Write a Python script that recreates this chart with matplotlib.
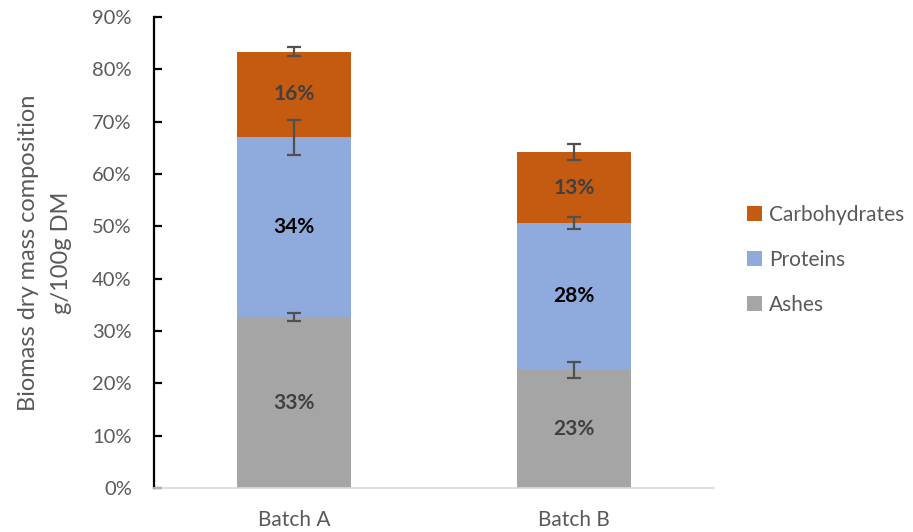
import matplotlib
matplotlib.use("Agg")
import matplotlib.pyplot as plt
from matplotlib.ticker import PercentFormatter
from matplotlib.patches import Patch
import numpy as np

plt.rcParams['font.family'] = ['Lato', 'DejaVu Sans']

categories = ["Batch A", "Batch B"]
series_names = ["Ashes", "Proteins", "Carbohydrates"]
ashes = [32.6, 22.6]
proteins = [34.4, 28.0]
carbohydrates = [16.4, 13.6]
ashes_err = [0.75, 1.5]
proteins_err = [3.4, 1.2]
carbohydrates_err = [0.9, 1.6]
ashes_lbl = ["33%", "23%"]
proteins_lbl = ["34%", "28%"]
carbohydrates_lbl = ["16%", "13%"]

colors = {"Ashes": "#A5A5A5", "Proteins": "#8FAADC", "Carbohydrates": "#C55A11"}
label_colors = {"Ashes": "#404040", "Proteins": "#000000", "Carbohydrates": "#404040"}

fig = plt.figure(figsize=(9.13, 5.32), dpi=100)
ax = fig.add_axes([154/913, 1-488/532, (714-154)/913, (488-17)/532])

x = np.arange(len(categories))
values = [ashes, proteins, carbohydrates]
errs = [ashes_err, proteins_err, carbohydrates_err]
lbls = [ashes_lbl, proteins_lbl, carbohydrates_lbl]
bottom = np.zeros(len(categories))
for name, v, e, lb in zip(series_names, values, errs, lbls):
    v = np.array(v)
    ax.bar(x, v, width=0.41, bottom=bottom, color=colors[name], zorder=2)
    tops = bottom + v
    ax.errorbar(x, tops, yerr=e, fmt='none', ecolor='#505050', elinewidth=1.6,
                capsize=5, capthick=1.6, zorder=4)
    for xi, b, vi, t in zip(x, bottom, v, lb):
        ax.text(xi, b + vi/2, t, ha='center', va='center', fontsize=15,
                fontweight='bold', color=label_colors[name], zorder=5)
    bottom = tops

ax.set_xlim(-0.5, 1.5)
ax.set_ylim(0, 90)
ax.set_yticks(np.arange(0, 91, 10))
ax.yaxis.set_major_formatter(PercentFormatter(decimals=0))
ax.set_xticks(x)
ax.set_xticklabels(categories)

for s in ['top', 'right']:
    ax.spines[s].set_visible(False)
ax.spines['left'].set_color('black')
ax.spines['left'].set_linewidth(1.6)
ax.spines['bottom'].set_color('#D9D9D9')
ax.spines['bottom'].set_linewidth(1.2)

ax.tick_params(axis='y', direction='in', length=6, width=1.6, color='black',
               labelsize=14.5, labelcolor='#595959', pad=16)
ax.tick_params(axis='x', length=0, labelsize=15, labelcolor='#595959', pad=16)

ax.set_ylabel("Biomass dry mass composition\ng/100g DM", fontsize=17,
              color='#595959', linespacing=1.7)
ax.yaxis.set_label_coords(-0.146, 0.5)

handles = [Patch(facecolor=colors[n]) for n in ["Carbohydrates", "Proteins", "Ashes"]]
leg = fig.legend(handles, ["Carbohydrates", "Proteins", "Ashes"], loc='center left',
                 bbox_to_anchor=(728/913, 1-260/532), frameon=False, fontsize=15,
                 handlelength=0.75, handleheight=0.75, handletextpad=0.3,
                 labelspacing=1.2, labelcolor='#595959')

fig.savefig("out.png", dpi=100)
